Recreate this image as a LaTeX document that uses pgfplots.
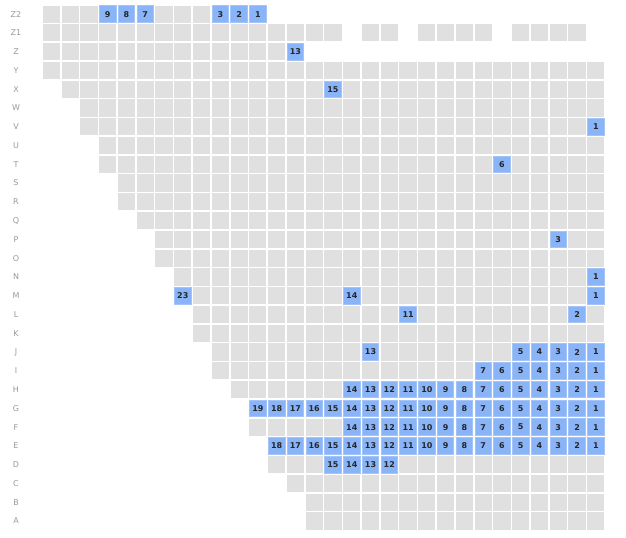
\documentclass[border=0pt]{standalone}
\usepackage{fontspec}
\setmainfont{DejaVu Sans}
\usepackage{pgfplots}
\pgfplotsset{compat=1.18}

\definecolor{cellgray}{HTML}{E0E0E0}
\definecolor{seatblue}{HTML}{8AB4F8}
\definecolor{seatedge}{HTML}{A4C4F8}
\definecolor{rowlabel}{HTML}{999999}

% one gray run of seats per row segment: (first-0.5) to (last+0.5)
\pgfplotsset{seg/.style={cellgray, line width=14.08pt, forget plot}}

\begin{document}
\begin{tikzpicture}
\useasboundingbox (-31.5pt,-5.7pt) rectangle (438pt,397.8pt);
\begin{axis}[
    x=14.08pt, y=14.08pt,
    xmin=-0.5, xmax=29.5, ymin=-0.5, ymax=27.5,
    axis line style={draw=none},
    axis on top,
    xtick={-0.5,0.5,...,29.5},
    xticklabels={},
    xmajorgrids=true,
    ytick={0,...,27},
    yticklabels={A,B,C,D,E,F,G,H,I,J,K,L,M,N,O,P,Q,R,S,T,U,V,W,X,Y,Z,Z1,Z2},
    yticklabel style={font=\fontsize{6}{7}\selectfont, text=rowlabel, anchor=center, xshift=-19.5pt},
    minor ytick={-0.5,0.5,...,27.5},
    yminorgrids=true,
    major grid style={white, line width=1.2pt},
    minor grid style={white, line width=1.2pt},
    major tick length=0pt, minor tick length=0pt,
  ]
  % gray seats, row by row
  \addplot[seg] coordinates {(-0.5,27)(11.5,27)};
  \addplot[seg] coordinates {(-0.5,26)(15.5,26)};
  \addplot[seg] coordinates {(16.5,26)(18.5,26)};
  \addplot[seg] coordinates {(19.5,26)(23.5,26)};
  \addplot[seg] coordinates {(24.5,26)(28.5,26)};
  \addplot[seg] coordinates {(-0.5,25)(13.5,25)};
  \addplot[seg] coordinates {(-0.5,24)(29.5,24)};
  \addplot[seg] coordinates {(0.5,23)(29.5,23)};
  \addplot[seg] coordinates {(1.5,22)(29.5,22)};
  \addplot[seg] coordinates {(1.5,21)(29.5,21)};
  \addplot[seg] coordinates {(2.5,20)(29.5,20)};
  \addplot[seg] coordinates {(2.5,19)(29.5,19)};
  \addplot[seg] coordinates {(3.5,18)(29.5,18)};
  \addplot[seg] coordinates {(3.5,17)(29.5,17)};
  \addplot[seg] coordinates {(4.5,16)(29.5,16)};
  \addplot[seg] coordinates {(5.5,15)(29.5,15)};
  \addplot[seg] coordinates {(5.5,14)(29.5,14)};
  \addplot[seg] coordinates {(6.5,13)(29.5,13)};
  \addplot[seg] coordinates {(6.5,12)(29.5,12)};
  \addplot[seg] coordinates {(7.5,11)(29.5,11)};
  \addplot[seg] coordinates {(7.5,10)(29.5,10)};
  \addplot[seg] coordinates {(8.5,9)(29.5,9)};
  \addplot[seg] coordinates {(8.5,8)(29.5,8)};
  \addplot[seg] coordinates {(9.5,7)(29.5,7)};
  \addplot[seg] coordinates {(10.5,6)(29.5,6)};
  \addplot[seg] coordinates {(10.5,5)(29.5,5)};
  \addplot[seg] coordinates {(11.5,4)(29.5,4)};
  \addplot[seg] coordinates {(11.5,3)(29.5,3)};
  \addplot[seg] coordinates {(12.5,2)(29.5,2)};
  \addplot[seg] coordinates {(13.5,1)(29.5,1)};
  \addplot[seg] coordinates {(13.5,0)(29.5,0)};

  % taken seats with their numbers
  \addplot[only marks, mark=square*, mark size=6.2pt,
    mark options={fill=seatblue, draw=seatedge, line width=0.6pt},
    point meta=explicit symbolic,
    nodes near coords,
    nodes near coords style={anchor=center, font=\bfseries\fontsize{6}{7}\selectfont, text=black!85},
  ] coordinates {
    (3,27)[9] (4,27)[8] (5,27)[7] (9,27)[3] (10,27)[2] (11,27)[1]
    (13,25)[13]
    (15,23)[15]
    (29,21)[1]
    (24,19)[6]
    (27,15)[3]
    (29,13)[1]
    (7,12)[23] (16,12)[14] (29,12)[1]
    (19,11)[11] (28,11)[2]
    (17,9)[13] (25,9)[5] (26,9)[4] (27,9)[3] (28,9)[2] (29,9)[1]
    (23,8)[7] (24,8)[6] (25,8)[5] (26,8)[4] (27,8)[3] (28,8)[2] (29,8)[1]
    (16,7)[14] (17,7)[13] (18,7)[12] (19,7)[11] (20,7)[10] (21,7)[9] (22,7)[8]
    (23,7)[7] (24,7)[6] (25,7)[5] (26,7)[4] (27,7)[3] (28,7)[2] (29,7)[1]
    (11,6)[19] (12,6)[18] (13,6)[17] (14,6)[16] (15,6)[15] (16,6)[14] (17,6)[13]
    (18,6)[12] (19,6)[11] (20,6)[10] (21,6)[9] (22,6)[8] (23,6)[7] (24,6)[6]
    (25,6)[5] (26,6)[4] (27,6)[3] (28,6)[2] (29,6)[1]
    (16,5)[14] (17,5)[13] (18,5)[12] (19,5)[11] (20,5)[10] (21,5)[9] (22,5)[8]
    (23,5)[7] (24,5)[6] (25,5)[5] (26,5)[4] (27,5)[3] (28,5)[2] (29,5)[1]
    (12,4)[18] (13,4)[17] (14,4)[16] (15,4)[15] (16,4)[14] (17,4)[13] (18,4)[12]
    (19,4)[11] (20,4)[10] (21,4)[9] (22,4)[8] (23,4)[7] (24,4)[6] (25,4)[5]
    (26,4)[4] (27,4)[3] (28,4)[2] (29,4)[1]
    (15,3)[15] (16,3)[14] (17,3)[13] (18,3)[12]
  };
\end{axis}
\end{tikzpicture}
\end{document}
